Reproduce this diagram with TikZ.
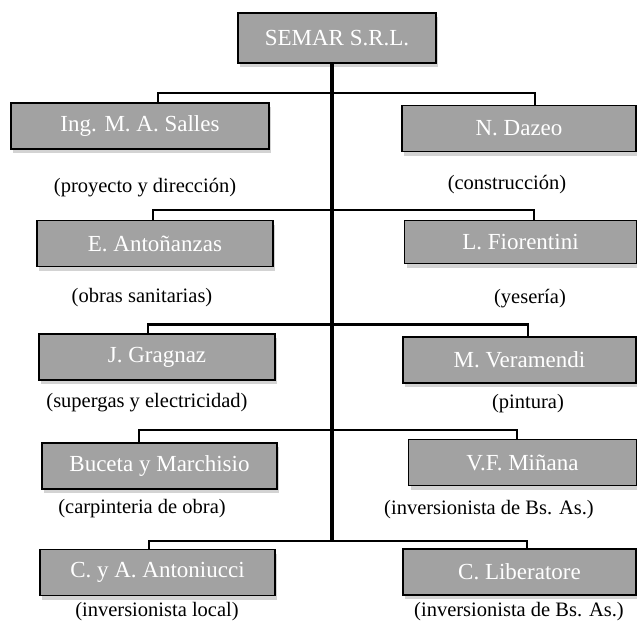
\documentclass[tikz,border=0pt]{standalone}
\usepackage{fontspec}
\setmainfont{Liberation Serif}
\usetikzlibrary{shadows}
\definecolor{boxgray}{HTML}{A2A2A2}
\begin{document}
\begin{tikzpicture}[x=1pt, y=-1pt,
		member/.style={draw=black, line width=1.1pt, fill=boxgray, text=white, minimum height=46pt, inner sep=0pt,
			font=\fontsize{23}{26}\selectfont, drop shadow={shadow xshift=2pt, shadow yshift=-4pt, opacity=0.35}},
		role/.style={font=\fontsize{20.5}{23}\selectfont, inner sep=0pt},
		bus/.style={line width=2.6pt},
		trunk/.style={line width=4.8pt}]
		\useasboundingbox (0,0) rectangle (637,622);
		\node[member, minimum width=198pt, minimum height=50pt] at (337,38) (SEMAR) {SEMAR S.R.L.};
		\node[member, minimum width=258pt] at (140,126) (Salles) {Ing. M. A. Salles};
		\node[member, minimum width=234pt] at (519,128.5) (Dazeo) {N. Dazeo};
		\node[member, minimum width=236pt] at (155,243.5) (Antonanzas) {E. Antoñanzas};
		\node[member, minimum width=232pt, minimum height=43pt] at (520.5,242) (Fiorentini) {L. Fiorentini};
		\node[member, minimum width=236pt] at (157,357) (Gragnaz) {J. Gragnaz};
		\node[member, minimum width=233pt] at (519.5,360) (Veramendi) {M. Veramendi};
		\node[member, minimum width=235pt] at (159.5,466) (Buceta) {Buceta y Marchisio};
		\node[member, minimum width=228pt] at (522.5,462.5) (Minana) {V.F. Miñana};
		\node[member, minimum width=235pt] at (157.5,572.5) (Antoniucci) {C. y A. Antoniucci};
		\node[member, minimum width=233pt] at (519.5,572) (Liberatore) {C. Liberatore};
		
		\node[role] at (145,188) (rSalles) {(proyecto y dirección)};
		\node[role] at (507,185) (rDazeo) {(construcción)};
		\node[role] at (142,298) (rAntonanzas) {(obras sanitarias)};
		\node[role] at (530,299) (rFiorentini) {(yesería)};
		\node[role] at (147,403) (rGragnaz) {(supergas y electricidad)};
		\node[role] at (528,404) (rVeramendi) {(pintura)};
		\node[role] at (142,509) (rBuceta) {(carpinteria de obra)};
		\node[role] at (489,510) (rMinana) {(inversionista de Bs. As.)};
		\node[role] at (157,612) (rAntoniucci) {(inversionista local)};
		\node[role] at (519,612) (rLiberatore) {(inversionista de Bs. As.)};
		
		\coordinate (L1) at (158,93);   \coordinate (R1) at (535,93);
		\coordinate (L2) at (153,210);  \coordinate (R2) at (534,210);
		\coordinate (L3) at (148,324.5);\coordinate (R3) at (528,324.5);
		\coordinate (L4) at (139,430);  \coordinate (R4) at (517,430);
		\coordinate (L5) at (149,541);  \coordinate (R5) at (527,541);
		
		\draw[bus] (Salles.north -| L1) -- (L1) -- (R1) -- (Dazeo.north -| R1);
		\draw[bus] (Antonanzas.north -| L2) -- (L2) -- (R2) -- (Fiorentini.north -| R2);
		\draw[bus] (Gragnaz.north -| L3) -- (L3) -- (R3) -- (Veramendi.north -| R3);
		\draw[bus] (Buceta.north -| L4) -- (L4) -- (R4) -- (Minana.north -| R4);
		\draw[bus] (Antoniucci.north -| L5) -- (L5) -- (R5) -- (Liberatore.north -| R5);
		\draw[trunk] (SEMAR.south -| 332,0) -- (332,541);
		\end{tikzpicture}
\end{document}
